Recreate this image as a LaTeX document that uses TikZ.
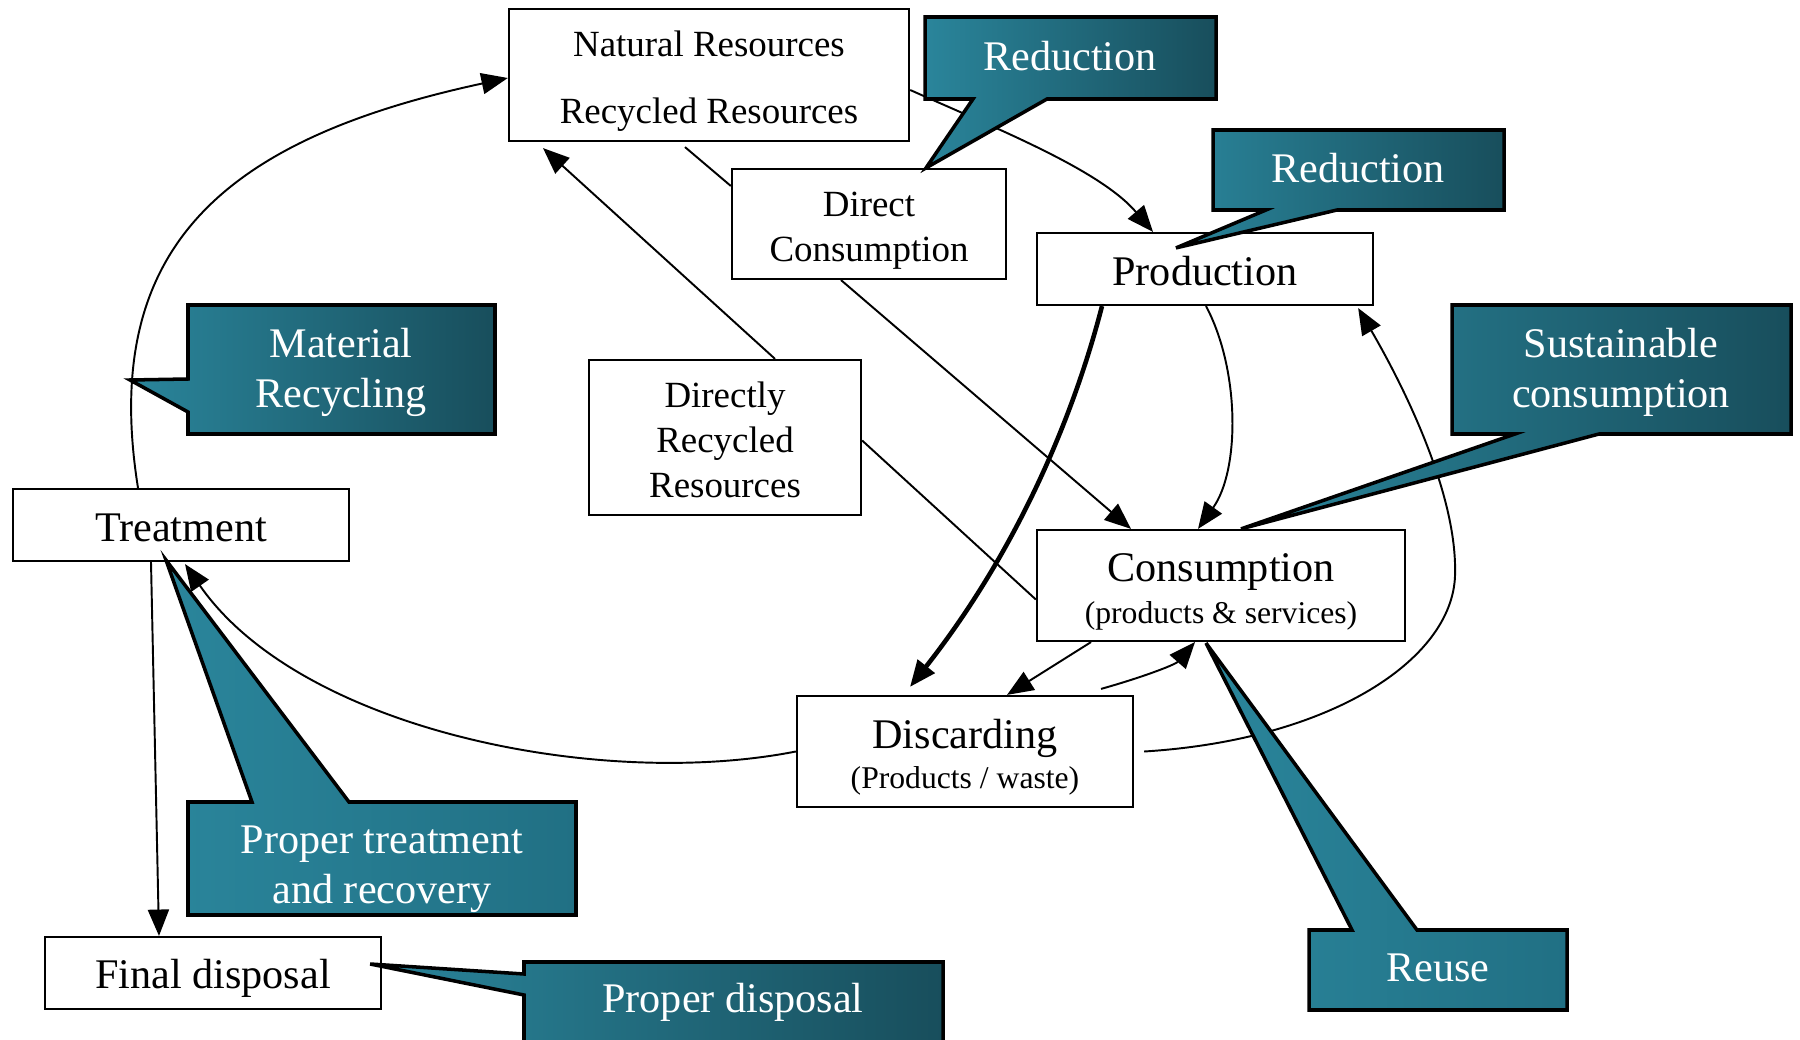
\documentclass[tikz,border=0pt]{standalone}
\usepackage{fontspec}
\setmainfont{Liberation Serif}
\usepackage{tikz}
\usetikzlibrary{arrows.meta,calc}

\definecolor{tealL}{RGB}{42,133,155}
\definecolor{tealD}{RGB}{24,78,92}
\definecolor{tealM}{RGB}{33,112,132}

\begin{document}
\begin{tikzpicture}[x=0.01cm,y=-0.01cm,
  >={Triangle[length=7.5pt,width=6pt]},
  box/.style={draw,line width=0.6pt,fill=white,inner sep=0pt,align=center,font=\fontsize{12}{14}\selectfont},
  link/.style={line width=0.55pt},
  bubble/.style={draw=black,line width=1pt,line join=miter,left color=tealL,right color=tealD},
  calltext/.style={text=white,align=center,font=\fontsize{12}{14.2}\selectfont}]
\useasboundingbox (0,0) rectangle (1800,1040);

% stages of the cycle (the rules push the text a little down)
\node[box,minimum width=4cm,minimum height=1.32cm,font=\fontsize{10.5}{19}\selectfont] (nat) at (709,75) {\rule{0pt}{10.6pt}Natural Resources\\Recycled Resources};
\node[box,minimum width=2.74cm,minimum height=1.1cm,font=\fontsize{10.5}{12.8}\selectfont] (dcons) at (869,224) {\rule{0pt}{10.6pt}Direct\\Consumption};
\node[box,minimum width=3.36cm,minimum height=0.72cm] (prod) at (1205,269) {\rule{0pt}{9.6pt}Production};
\node[box,minimum width=2.72cm,minimum height=1.55cm,font=\fontsize{10.5}{12.8}\selectfont] (drr) at (725,437.5) {\rule{0pt}{8.6pt}Directly\\Recycled\\Resources};
\node[box,minimum width=3.36cm,minimum height=0.72cm] (treat) at (181,525) {\rule{0pt}{9.6pt}Treatment};
\node[box,minimum width=3.68cm,minimum height=1.11cm,font=\fontsize{12}{11.7}\selectfont] (cons) at (1221,585.5) {\rule{0pt}{11.6pt}Consumption\\{\fontsize{9}{11}\selectfont (products \& services)}};
\node[box,minimum width=3.36cm,minimum height=1.11cm,font=\fontsize{12}{11.5}\selectfont] (disc) at (965,751.5) {\rule{0pt}{11.6pt}Discarding\\{\fontsize{9}{11}\selectfont (Products / waste)}};
\node[box,minimum width=3.36cm,minimum height=0.72cm] (final) at (213,973) {\rule{0pt}{11.6pt}Final disposal};

% flows
\draw[link,->] ($(treat.north)+(-43,0)$) .. controls (100,250) and (220,140) .. ($(nat.west)+(0,3)$);
\draw[link,->] ($(nat.east)+(0,15)$) .. controls (1000,130) and (1100,170) .. ($(prod.north)+(-52,0)$);
\draw[link] ($(nat.south)+(-24,5)$) -- ($(dcons.west)+(0,-38)$);
\draw[link,->] ($(dcons.south)+(-28,0)$) -- ($(cons.north)+(-90,0)$);
\draw[link,->] ($(drr.north)+(50,0)$) -- ($(nat.south)+(-166,6)$);
\draw[link] ($(drr.east)+(0,3)$) -- ($(cons.west)+(0,14)$);
\draw[line width=1.3pt,->] ($(prod.south)+(-103,0)$) .. controls (1070,430) and (1010,560) .. ($(disc.north)+(-55,-8)$);
\draw[link,->] ($(prod.south)+(1,0)$) .. controls (1240,370) and (1240,470) .. ($(cons.north)+(-23,0)$);
\draw[link,->] ($(cons.south)+(-130,0)$) -- ($(disc.north)+(42,0)$);
\draw[link,->] ($(disc.north)+(136,-6)$) .. controls (1140,678) and (1175,665) .. ($(cons.south)+(-26,0)$);
\draw[link,->] ($(disc.east)+(10,0)$) .. controls (1330,740) and (1452,660) .. (1455,576)
  .. controls (1458,492) and (1400,380) .. ($(prod.south east)+(-16,2)$);
\draw[link,->] (disc.west) .. controls (600,790) and (300,730) .. ($(treat.south)+(4,2)$);
\draw[link,->] ($(treat.south)+(-30,0)$) -- ($(final.north)+(-54,0)$);

% callouts
\filldraw[bubble] (925,17) -- (1216,17) -- (1216,99) -- (1047,99) -- ($(dcons.north)+(57,0)$) -- (973,99) -- (925,99) -- cycle;
\node[calltext] (red1) at (1070,56) {Reduction};
\filldraw[bubble] (1213,130) -- (1504,130) -- (1504,210) -- (1337,210) -- ($(prod.north)+(-29,16)$) -- (1266,210) -- (1213,210) -- cycle;
\node[calltext] (red2) at (1358,168) {Reduction};
\filldraw[bubble] (188,305) -- (495,305) -- (495,434) -- (188,434) -- (188,412) -- (130,380) -- (188,379) -- cycle;
\node[calltext] (matrec) at (341,372) {Material\\Recycling};
\filldraw[bubble] (1452,305) -- (1791,305) -- (1791,434) -- (1599,434) -- ($(cons.north)+(20,0)$) -- (1515,434) -- (1452,434) -- cycle;
\node[calltext] (sust) at (1621,372) {Sustainable\\consumption};
\filldraw[bubble,right color=tealM] (188,802) -- (252,802) -- ($(treat.south)+(-15,-2)$) -- (349,802) -- (576,802) -- (576,915) -- (188,915) -- cycle;
\node[calltext] (ptrec) at (382,869) {Proper treatment\\and recovery};
\filldraw[bubble] (524,962) -- (943,962) -- (943,1045) -- (524,1045) -- (524,995) -- ($(final.east)+(-12,-9)$) -- (524,974) -- cycle;
\node[calltext] (pdisp) at (733,1002) {Proper disposal};
\filldraw[bubble,right color=tealM] (1309,930) -- (1352,930) -- ($(cons.south)+(-15,1)$) -- (1417,930) -- (1567,930) -- (1567,1010) -- (1309,1010) -- cycle;
\node[calltext] (reuse) at (1438,968) {Reuse};
\end{tikzpicture}
\end{document}
